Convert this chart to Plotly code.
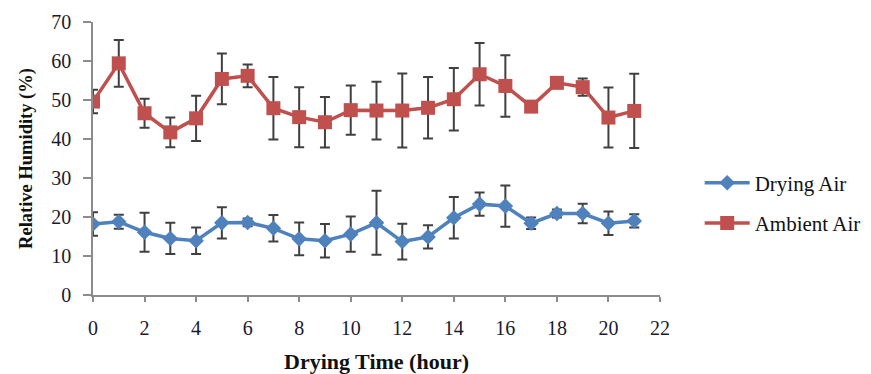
import plotly.graph_objects as go

hours = list(range(22))
drying_air = [18.2, 18.8, 16.1, 14.5, 13.9, 18.5, 18.6, 17.1, 14.4, 13.9, 15.6, 18.5,
              13.7, 14.9, 19.8, 23.3, 22.8, 18.4, 20.9, 20.9, 18.4, 19.0]
drying_err = [3.0, 1.8, 5.0, 4.0, 3.4, 4.0, 1.0, 3.4, 4.2, 4.3, 4.5, 8.2,
              4.6, 3.0, 5.3, 3.0, 5.3, 1.5, 1.0, 2.5, 3.0, 1.7]
ambient_air = [49.6, 59.4, 46.6, 41.7, 45.3, 55.4, 56.2, 47.9, 45.6, 44.3, 47.4, 47.3,
               47.3, 48.0, 50.2, 56.6, 53.6, 48.3, 54.4, 53.3, 45.5, 47.2]
ambient_err = [3.0, 6.0, 3.7, 3.8, 5.8, 6.5, 2.9, 8.0, 7.7, 6.5, 6.3, 7.4,
               9.5, 7.9, 8.0, 8.0, 7.9, 1.0, 1.0, 2.2, 7.7, 9.5]
x_ticks = list(range(0, 23, 2))
y_ticks = list(range(0, 71, 10))

BLUE = "#4F81BD"
RED = "#C0504D"
SERIF = "Liberation Serif"

fig = go.Figure()
fig.add_trace(go.Scatter(
    x=hours, y=drying_air, name="Drying Air", legendgroup="a",
    mode="lines+markers",
    line=dict(color=BLUE, width=3.5),
    marker=dict(symbol="diamond", size=12, color=BLUE),
    error_y=dict(type="data", array=drying_err, color="#404040", thickness=2, width=5),
))
fig.add_trace(go.Scatter(
    x=hours, y=ambient_air, name="Ambient Air", legendgroup="b",
    mode="lines+markers",
    line=dict(color=RED, width=3.5),
    marker=dict(symbol="square", size=14, color=RED),
    error_y=dict(type="data", array=ambient_err, color="#404040", thickness=2, width=5),
))

axis_line = "#8c8c8c"
fig.update_layout(
    width=863, height=366,
    margin=dict(l=85, r=211, t=14, b=79, autoexpand=False),
    paper_bgcolor="white", plot_bgcolor="white",
    font=dict(family=SERIF, color="#111111"),
    showlegend=True,
    legend=dict(x=1.07, xanchor="left", y=0.485, yanchor="top",
                font=dict(family=SERIF, size=21, color="#111111"),
                tracegroupgap=10, itemwidth=45, bgcolor="rgba(0,0,0,0)"),
    xaxis=dict(range=[0, 22], tickvals=x_ticks, showgrid=False, zeroline=False,
               showline=True, linecolor=axis_line, linewidth=1.5,
               ticks="outside", ticklen=5, tickcolor=axis_line, tickwidth=1.5,
               tickfont=dict(family=SERIF, size=20, color="#1a1a2e"),
               ticklabelstandoff=9, automargin=False,
               title=dict(text="<b>Drying Time (hour)</b>", standoff=22,
                          font=dict(family=SERIF, size=22, color="#111111"))),
    yaxis=dict(range=[0, 70], tickvals=y_ticks, showgrid=False, zeroline=False,
               showline=True, linecolor=axis_line, linewidth=1.5,
               ticks="outside", ticklen=8, tickcolor=axis_line, tickwidth=1.5,
               tickfont=dict(family=SERIF, size=20, color="#1a1a2e"),
               ticklabelstandoff=8, automargin=False,
               title=dict(text="<b>Relative Humidity (%)</b>", standoff=14,
                          font=dict(family=SERIF, size=18.5, color="#111111"))),
)

fig.write_html("out.html")
